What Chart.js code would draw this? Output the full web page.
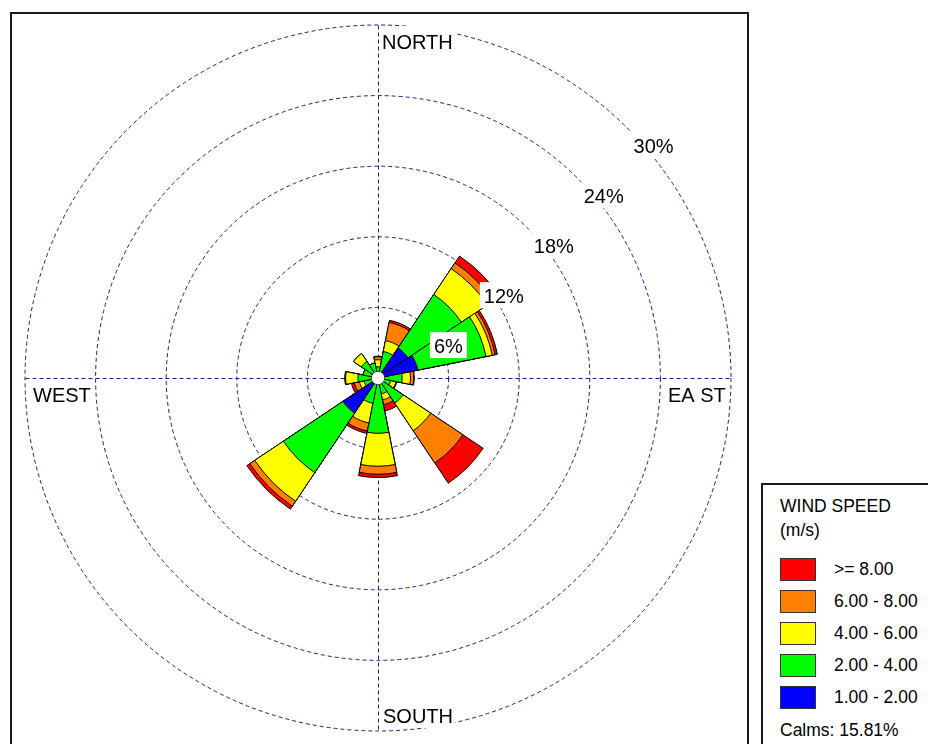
<!DOCTYPE html>
<html>
<head>
<meta charset="utf-8">
<title>Wind Rose</title>
<script src="https://cdn.jsdelivr.net/npm/chart.js@4.4.1/dist/chart.umd.min.js"></script>
<style>
  html, body { margin: 0; padding: 0; background: #fff; width: 928px; height: 744px; overflow: hidden; }
  #frame { position: absolute; left: 10px; top: 12px; width: 739px; height: 800px; box-sizing: border-box; border: 2px solid #1a1a1a; }
  #rose { position: absolute; left: 13px; top: 13px; }
  #legend { position: absolute; left: 761px; top: 483px; width: 200px; height: 300px; box-sizing: border-box;
            border: 2px solid #1a1a1a; font-family: "Liberation Sans", Arial, sans-serif; font-size: 17.5px; color: #000; }
  #legend .ttl { position: absolute; left: 17px; top: 9px; line-height: 24px; white-space: nowrap; }
  #legend .sw { position: absolute; left: 17px; width: 36px; height: 23px; box-sizing: border-box; border: 1px solid #333; }
  #legend .lb { position: absolute; left: 71px; line-height: 24px; white-space: nowrap; }
  #legend .calm { position: absolute; left: 17px; top: 233px; line-height: 24px; white-space: nowrap; }
</style>
</head>
<body>
<div id="frame"></div>
<canvas id="rose" width="730" height="730"></canvas>
<div id="legend">
  <div class="ttl">WIND SPEED<br>(m/s)</div>
  <div id="items"></div>
  <div class="calm" id="calm"></div>
</div>
<script>
// Direction sectors, clockwise from north
const directions = ['N', 'NNE', 'NE', 'ENE', 'E', 'ESE', 'SE', 'SSE', 'S', 'SSW', 'SW', 'WSW', 'W', 'WNW', 'NW', 'NNW'];

// Speed classes (m/s), lowest first, and their colours
const speedClasses = ['1.00 - 2.00', '2.00 - 4.00', '4.00 - 6.00', '6.00 - 8.00', '>= 8.00'];
const classColors  = ['#0000FF', '#00FF00', '#FFFF00', '#FF8000', '#FF0000'];

// Frequency (% of all hours) of each speed class, per direction
const freq1to2 = [0.30, 0.30, 3.07, 3.45, 0.40, 0.30, 0.30, 0.30, 0.30, 0.50, 3.58, 0.30, 0.30, 0.30, 0.30, 0.30];
const freq2to4 = [0.65, 2.00, 5.46, 5.91, 1.65, 0.80, 2.26, 1.08, 4.40, 1.70, 6.09, 0.90, 1.40, 1.00, 1.40, 1.00];
const freq4to6 = [0.60, 0.94, 2.65, 0.54, 0.71, 0.45, 2.82, 0.52, 2.80, 1.70, 2.93, 0.40, 1.05, 0.00, 0.80, 0.00];
const freq6to8 = [0.25, 1.58, 0.59, 0.25, 0.28, 0.05, 3.30, 0.42, 0.68, 0.70, 0.50, 0.45, 0.05, 0.00, 0.00, 0.00];
const freq8up  = [0.05, 0.18, 0.69, 0.20, 0.04, 0.02, 2.07, 0.54, 0.28, 0.20, 0.30, 0.25, 0.02, 0.00, 0.00, 0.00];

// Frequency rings and their labels
const ringTicks = [6, 12, 18, 24, 30];
const ringLabels = ['6%', '12%', '18%', '24%', '30%'];

// Compass labels: north, east, south, west
const compassLabels = ['NORTH', 'EA ST', 'SOUTH', 'WEST'];

const calmsPercent = 15.81;

const GRID_COLOR = 'rgb(28,28,130)';
const GRID_DASH = [4, 3];
const TEXT_FONT = '20px "Liberation Sans", Arial, sans-serif';

// Petals are stacked: each class is drawn as a sector reaching the running total
const classSeries = [freq1to2, freq2to4, freq4to6, freq6to8, freq8up];
const running = directions.map(() => 0);
const datasets = classSeries.map((series, k) => {
  const cum = series.map((v, i) => (running[i] = +(running[i] + v).toFixed(3)));
  return {
    label: speedClasses[k],
    data: cum.slice(),
    backgroundColor: classColors[k],
    borderColor: '#000',
    borderWidth: 1
  };
});

const roseDecor = {
  id: 'roseDecor',
  beforeDatasetsDraw(chart) {
    const s = chart.scales.r;
    const ctx = chart.ctx;
    const R = s.getDistanceFromCenterForValue(ringTicks[ringTicks.length - 1]);
    const cx = s.xCenter + 0.5, cy = s.yCenter + 0.5;
    ctx.save();
    ctx.strokeStyle = GRID_COLOR;
    ctx.lineWidth = 1;
    ctx.setLineDash(GRID_DASH);
    ctx.beginPath();
    ctx.moveTo(cx, cy - R); ctx.lineTo(cx, cy + R);
    ctx.moveTo(cx - R, cy); ctx.lineTo(cx + R, cy);
    ctx.stroke();
    ctx.restore();
  },
  afterDatasetsDraw(chart) {
    const s = chart.scales.r;
    const ctx = chart.ctx;
    const cx = s.xCenter, cy = s.yCenter;
    const R = s.getDistanceFromCenterForValue(ringTicks[ringTicks.length - 1]);
    ctx.save();

    // calm circle
    ctx.beginPath();
    ctx.arc(cx, cy, 6.7, 0, Math.PI * 2);
    ctx.fillStyle = '#fff';
    ctx.fill();
    ctx.lineWidth = 0.8;
    ctx.strokeStyle = '#222';
    ctx.stroke();

    ctx.font = TEXT_FONT;
    ctx.textBaseline = 'alphabetic';
    ctx.textAlign = 'left';

    // ring labels along the north-east diagonal, on white boxes
    ringTicks.forEach((t, i) => {
      const r = s.getDistanceFromCenterForValue(t);
      const px = cx + r * Math.SQRT1_2;
      const py = cy - r * Math.SQRT1_2;
      const x = px + 6, base = py + 25;
      const w = ctx.measureText(ringLabels[i]).width;
      ctx.fillStyle = '#fff';
      ctx.fillRect(x - 4, base - 21, w + 8, 26);
      ctx.fillStyle = '#000';
      ctx.fillText(ringLabels[i], x, base);
    });

    // compass labels inside the outer ring
    const spots = [
      [cx + 4, cy - R + 24],
      [cx + R - 63, cy + 24],
      [cx + 5, cy + R - 8],
      [cx - R + 8, cy + 24]
    ];
    compassLabels.forEach((txt, i) => {
      const [x, base] = spots[i];
      const w = ctx.measureText(txt).width;
      ctx.fillStyle = '#fff';
      ctx.fillRect(x - 2, base - 23, w + 4, 28);
      ctx.fillStyle = '#000';
      ctx.fillText(txt, x, base);
    });
    ctx.restore();
  }
};

new Chart(document.getElementById('rose'), {
  type: 'polarArea',
  data: { labels: directions, datasets },
  options: {
    responsive: false,
    animation: false,
    devicePixelRatio: 1,
    layout: { padding: 12 },
    plugins: { legend: { display: false }, tooltip: { enabled: false } },
    scales: {
      r: {
        min: 0,
        max: 30,
        startAngle: -11.25,
        ticks: { display: false, stepSize: 6 },
        grid: { circular: true, color: GRID_COLOR, lineWidth: 1, borderDash: GRID_DASH },
        border: { dash: GRID_DASH },
        angleLines: { display: false },
        pointLabels: { display: false }
      }
    }
  },
  plugins: [roseDecor]
});

// Legend: highest class on top
const items = document.getElementById('items');
for (let k = speedClasses.length - 1, row = 0; k >= 0; k--, row++) {
  const top = 73 + row * 32;
  const sw = document.createElement('div');
  sw.className = 'sw';
  sw.style.top = top + 'px';
  sw.style.background = classColors[k];
  items.appendChild(sw);
  const lb = document.createElement('div');
  lb.className = 'lb';
  lb.style.top = (top - 1) + 'px';
  lb.textContent = speedClasses[k];
  items.appendChild(lb);
}
document.getElementById('calm').textContent = 'Calms: ' + calmsPercent.toFixed(2) + '%';
</script>
</body>
</html>
